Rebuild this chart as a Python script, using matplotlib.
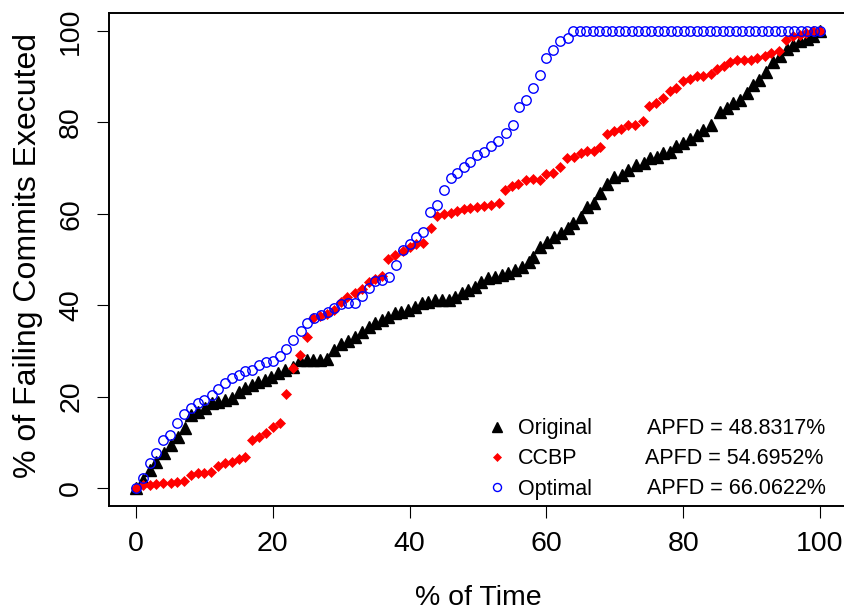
import matplotlib
matplotlib.use("Agg")
import matplotlib.pyplot as plt

plt.rcParams['font.family'] = ['Liberation Sans', 'DejaVu Sans']

# Original ordering (black triangles)
orig_x = [0, 1.0, 2.0, 3.0, 4.1, 5.1, 6.2, 7.2, 8.1, 9.1, 10.1, 11.1, 12.0, 13.0, 14.0,
          15.0, 15.9, 16.9, 17.9, 18.9, 19.8, 20.8, 21.8, 22.9, 24.0, 25.0, 25.9, 26.9,
          27.9, 29.0, 30.0, 31.0, 32.0, 33.0, 34.0, 34.9, 35.9, 36.9, 37.9, 38.8, 39.8,
          40.8, 41.8, 42.7, 43.7, 44.7, 45.7, 46.6, 47.6, 48.6, 49.6, 50.5, 51.5, 52.5,
          53.5, 54.4, 55.4, 56.4, 57.4, 58.1, 59.1, 60.1, 61.1, 62.1, 63.1, 63.9, 65.0,
          66.0, 67.0, 67.9, 68.9, 69.9, 71.0, 72.0, 73.1, 74.2, 75.1, 76.1, 77.1, 78.1,
          79.0, 80.0, 81.0, 82.0, 82.9, 84.0, 85.4, 86.4, 87.3, 88.3, 89.3, 90.2, 91.1,
          92.1, 93.1, 94.2, 95.1, 96.1, 97.1, 98.1, 99.0, 100]
orig_y = [0, 1.8, 3.9, 5.8, 7.6, 9.4, 11.2, 13.1, 16.0, 16.7, 17.4, 18.5, 18.9, 19.3, 19.6,
          21.1, 21.8, 22.5, 23.3, 23.6, 24.4, 25.1, 25.8, 26.5, 28.0, 28.0, 28.0, 28.0,
          28.2, 30.2, 31.6, 32.2, 33.1, 34.2, 35.3, 36.0, 36.8, 37.5, 38.2, 38.6, 38.9,
          39.7, 40.4, 40.8, 41.1, 41.1, 41.1, 41.9, 42.6, 43.3, 44.0, 45.1, 45.9, 46.2,
          46.6, 47.0, 47.7, 48.4, 49.5, 50.6, 52.8, 53.9, 55.0, 55.7, 57.0, 57.9, 59.2,
          61.4, 62.4, 64.6, 66.5, 68.1, 68.5, 69.6, 70.7, 71.1, 72.1, 72.5, 73.4, 73.6,
          74.8, 75.4, 76.3, 77.2, 78.3, 79.4, 82.3, 83.1, 84.2, 84.9, 86.4, 88.2, 89.3,
          91.1, 93.3, 94.5, 96.0, 96.9, 97.7, 98.2, 98.8, 100]

# CCBP ordering (red diamonds)
ccbp_x = [0, 1.0, 2.0, 3.0, 4.0, 5.1, 6.0, 7.0, 8.0, 9.0, 9.9, 10.9, 12.0, 13.0, 14.0,
          15.0, 15.9, 16.9, 18.0, 19.0, 20.1, 21.1, 22.0, 23.0, 24.0, 25.0, 25.9, 26.9,
          27.9, 28.9, 29.9, 30.9, 32.0, 33.0, 34.0, 34.9, 35.9, 36.9, 37.9, 39.0, 40.0,
          41.0, 42.0, 43.1, 44.0, 45.0, 46.0, 47.0, 48.0, 48.9, 49.9, 50.9, 51.9, 53.0,
          53.9, 54.9, 55.9, 57.0, 58.0, 59.0, 60.0, 61.0, 62.0, 63.0, 64.0, 65.0, 66.0,
          67.0, 67.9, 68.9, 69.9, 70.9, 72.0, 73.0, 74.1, 75.0, 76.0, 77.0, 78.1, 79.0,
          80.0, 81.0, 82.0, 82.9, 84.0, 85.0, 86.0, 86.9, 87.9, 88.9, 89.9, 90.8, 92.0,
          92.9, 94.0, 95.0, 96.0, 97.0, 98.0, 98.9, 100]
ccbp_y = [0, 0.7, 0.7, 0.9, 1.0, 1.2, 1.4, 1.6, 2.8, 3.2, 3.3, 3.6, 4.8, 5.4, 5.8,
          6.3, 6.7, 10.5, 11.1, 12.0, 13.4, 14.3, 20.5, 26.2, 29.1, 33.0, 37.3, 37.7,
          38.1, 39.0, 40.6, 41.9, 42.7, 43.5, 45.1, 45.7, 46.4, 50.1, 51.0, 51.9, 52.7,
          53.3, 53.7, 57.0, 59.5, 59.9, 60.2, 60.7, 61.0, 61.2, 61.4, 61.7, 62.0, 62.4,
          65.1, 66.1, 66.5, 67.3, 67.6, 67.5, 68.8, 69.0, 70.3, 72.1, 72.4, 73.4, 73.8,
          73.8, 74.7, 77.5, 78.2, 78.5, 79.4, 79.4, 80.4, 83.6, 84.2, 85.3, 86.9, 87.5,
          89.1, 89.6, 90.2, 90.2, 90.6, 91.6, 92.3, 93.3, 93.7, 93.7, 93.7, 94.0, 94.5,
          95.1, 95.7, 98.0, 98.8, 99.1, 99.5, 99.9, 100]

# Optimal ordering (blue open circles)
opt_x = [0, 1.0, 2.0, 3.0, 4.0, 5.0, 6.0, 7.0, 8.0, 9.0, 10.0, 11.1, 12.0, 13.0, 14.0,
         15.1, 16.0, 17.0, 18.0, 19.0, 20.0, 21.1, 22.0, 23.0, 24.1, 25.0, 26.0, 27.0,
         28.0, 28.9, 30.0, 31.0, 32.0, 33.0, 34.0, 35.0, 36.0, 37.0, 38.0, 39.0, 40.0,
         41.0, 42.0, 43.0, 44.0, 45.0, 46.0, 47.0, 48.0, 48.9, 49.9, 50.9, 51.9, 52.9,
         54.1, 55.1, 56.0, 57.0, 58.0, 59.0, 60.0, 61.0, 62.0, 63.1, 63.9,
         64.9, 65.8, 66.8, 67.7, 68.7, 69.6, 70.6, 71.5, 72.5, 73.4, 74.4, 75.3, 76.3,
         77.2, 78.2, 79.1, 80.1, 81.0, 82.0, 82.9, 83.9, 84.8, 85.8, 86.7, 87.7, 88.6,
         89.6, 90.5, 91.5, 92.4, 93.4, 94.3, 95.3, 96.2, 97.2, 98.1, 99.1, 100]
opt_y = [0, 2.1, 5.4, 7.6, 10.5, 11.6, 14.3, 16.3, 17.4, 18.5, 19.3, 20.4, 21.6, 23.0, 24.0,
         24.7, 25.7, 25.8, 26.9, 27.6, 27.8, 28.9, 30.5, 32.3, 34.3, 36.0, 37.2, 37.9,
         38.5, 39.4, 40.3, 40.4, 40.5, 42.1, 43.8, 45.3, 45.6, 46.1, 48.7, 52.0, 53.4,
         54.9, 56.1, 60.5, 61.9, 65.3, 67.8, 69.0, 70.2, 71.4, 72.9, 73.6, 74.8, 76.0,
         77.6, 79.4, 83.4, 84.9, 87.5, 90.4, 94.0, 95.8, 97.7, 98.4, 100,
         100, 100, 100, 100, 100, 100, 100, 100, 100, 100, 100, 100, 100,
         100, 100, 100, 100, 100, 100, 100, 100, 100, 100, 100, 100, 100,
         100, 100, 100, 100, 100, 100, 100, 100, 100, 100, 100, 100]

names = ['Original', 'CCBP', 'Optimal']
apfd = ['APFD = 48.8317%', 'APFD = 54.6952%', 'APFD = 66.0622%']

fig = plt.figure(figsize=(8.44, 6.14), dpi=100)
ax = fig.add_axes([108.6 / 844, 107.7 / 614, 738.8 / 844, 493.6 / 614])

l1, = ax.plot(orig_x, orig_y, ls='none', marker='^', ms=8.8, color='black', mec='black')
l2, = ax.plot(ccbp_x, ccbp_y, ls='none', marker='D', ms=4.7, color='red', mec='red', mew=0.5)
l3, = ax.plot(opt_x, opt_y, ls='none', marker='o', ms=6.8, mfc='none', mec='blue', mew=1.0)

ax.set_xlim(-4, 104)
ax.set_ylim(-4, 104)
ax.set_xticks([0, 20, 40, 60, 80, 100])
ax.set_yticks([0, 20, 40, 60, 80, 100])
ax.tick_params(direction='out', length=8.6, width=0.8, labelsize=20.5, pad=9)
for t in ax.get_yticklabels():
    t.set_rotation(90)
    t.set_va('center')
for s in ax.spines.values():
    s.set_linewidth(1.4)

ax.set_xlabel('% of Time', fontsize=20.5, labelpad=20)
ax.set_ylabel('% of Failing Commits Executed', fontsize=23)
ax.yaxis.set_label_coords(-0.089, 0.508)

ax.legend([l1, l2, l3], names, loc='upper left', bbox_to_anchor=(51.2, 15.3),
          bbox_transform=ax.transData, frameon=False, fontsize=15.5, borderpad=0,
          handlelength=1.0, handletextpad=0.48, labelspacing=0.43, borderaxespad=0,
          markerscale=0.85)
ax.text(74.7, 13.0, apfd[0], fontsize=15.5, va='center', ha='left')
ax.text(74.4, 6.5, apfd[1], fontsize=15.5, va='center', ha='left')
ax.text(74.7, -0.1, apfd[2], fontsize=15.5, va='center', ha='left')

fig.savefig('out.png', dpi=100)
